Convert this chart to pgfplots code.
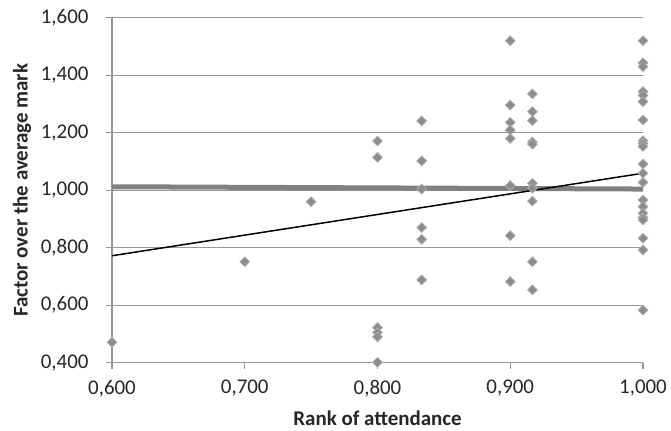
\documentclass[border=0pt]{standalone}
\usepackage{pgfplots}
\pgfplotsset{compat=1.18}
\usepackage{fontspec}
\setmainfont{Carlito}
\definecolor{gridc}{RGB}{150,150,150}
\definecolor{markf}{RGB}{140,140,140}
\definecolor{markd}{RGB}{170,170,170}
\definecolor{thickc}{RGB}{128,128,128}
\begin{document}
\begin{tikzpicture}
\path[use as bounding box] (-112bp,-68.3bp) rectangle (559bp,362.7bp);
\begin{axis}[
  at={(0,0)}, anchor=south west,
  scale only axis, width=531bp, height=345bp,
  xmin=0.6, xmax=1.0, ymin=0.4, ymax=1.6,
  xtick={0.6,0.7,0.8,0.9,1.0},
  ytick={0.4,0.6,0.8,1.0,1.2,1.4,1.6},
  axis x line*=bottom, axis y line*=left,
  axis line style={draw=gridc, line width=1.2bp, -},
  tick style={draw=gridc, line width=1.2bp},
  tick align=outside, major tick length=6bp,
  ymajorgrids, grid style={draw=gridc, line width=1.2bp},
  /pgf/number format/assume math mode=true,
  /pgf/number format/.cd, fixed, fixed zerofill, precision=3, use comma, 1000 sep={},
  /pgfplots/.cd,
  ticklabel style={font=\fontsize{21}{25}\selectfont, text=black!85},
  xticklabel style={anchor=north, yshift=-8bp},
  yticklabel style={anchor=east, xshift=-14bp},
  xlabel={Rank of attendance},
  ylabel={Factor over the average mark},
  every axis x label/.style={at={(axis description cs:0.5,0)}, anchor=center, yshift=-56bp, font=\bfseries\fontsize{21}{25}\selectfont, text=black!85},
  every axis y label/.style={at={(axis description cs:0,0.5)}, anchor=center, xshift=-90bp, rotate=90, font=\bfseries\fontsize{21}{25}\selectfont, text=black!85},
  clip=false,
]
\addplot[only marks, mark=square*, mark size=3.4bp, mark options={rotate=45, fill=markf, draw=markd, line width=0.9bp}] coordinates {
(0.6,0.471) (0.7,0.751) (0.75,0.960)
(0.8,1.171) (0.8,1.114) (0.8,0.522) (0.8,0.505) (0.8,0.490) (0.8,0.401)
(0.8333,1.241) (0.8333,1.102) (0.8333,1.004) (0.8333,0.870) (0.8333,0.829) (0.8333,0.688)
(0.9,1.520) (0.9,1.296) (0.9,1.236) (0.9,1.209) (0.9,1.180) (0.9,1.016) (0.9,0.842) (0.9,0.682)
(0.9167,1.335) (0.9167,1.273) (0.9167,1.242) (0.9167,1.168) (0.9167,1.160) (0.9167,1.024) (0.9167,1.007) (0.9167,0.962) (0.9167,0.751) (0.9167,0.653)
(1.0,1.520) (1.0,1.443) (1.0,1.430) (1.0,1.343) (1.0,1.330) (1.0,1.308) (1.0,1.244) (1.0,1.172) (1.0,1.162) (1.0,1.152) (1.0,1.091) (1.0,1.059) (1.0,1.027) (1.0,0.966) (1.0,0.943) (1.0,0.920) (1.0,0.905) (1.0,0.897) (1.0,0.833) (1.0,0.792) (1.0,0.583)
};
\addplot[thickc, line width=5bp, no marks] coordinates {(0.6,1.012) (1.0,1.004)};
\addplot[black, line width=1.5bp, no marks] coordinates {(0.6,0.772) (1.0,1.059)};
\end{axis}
\end{tikzpicture}
\end{document}
